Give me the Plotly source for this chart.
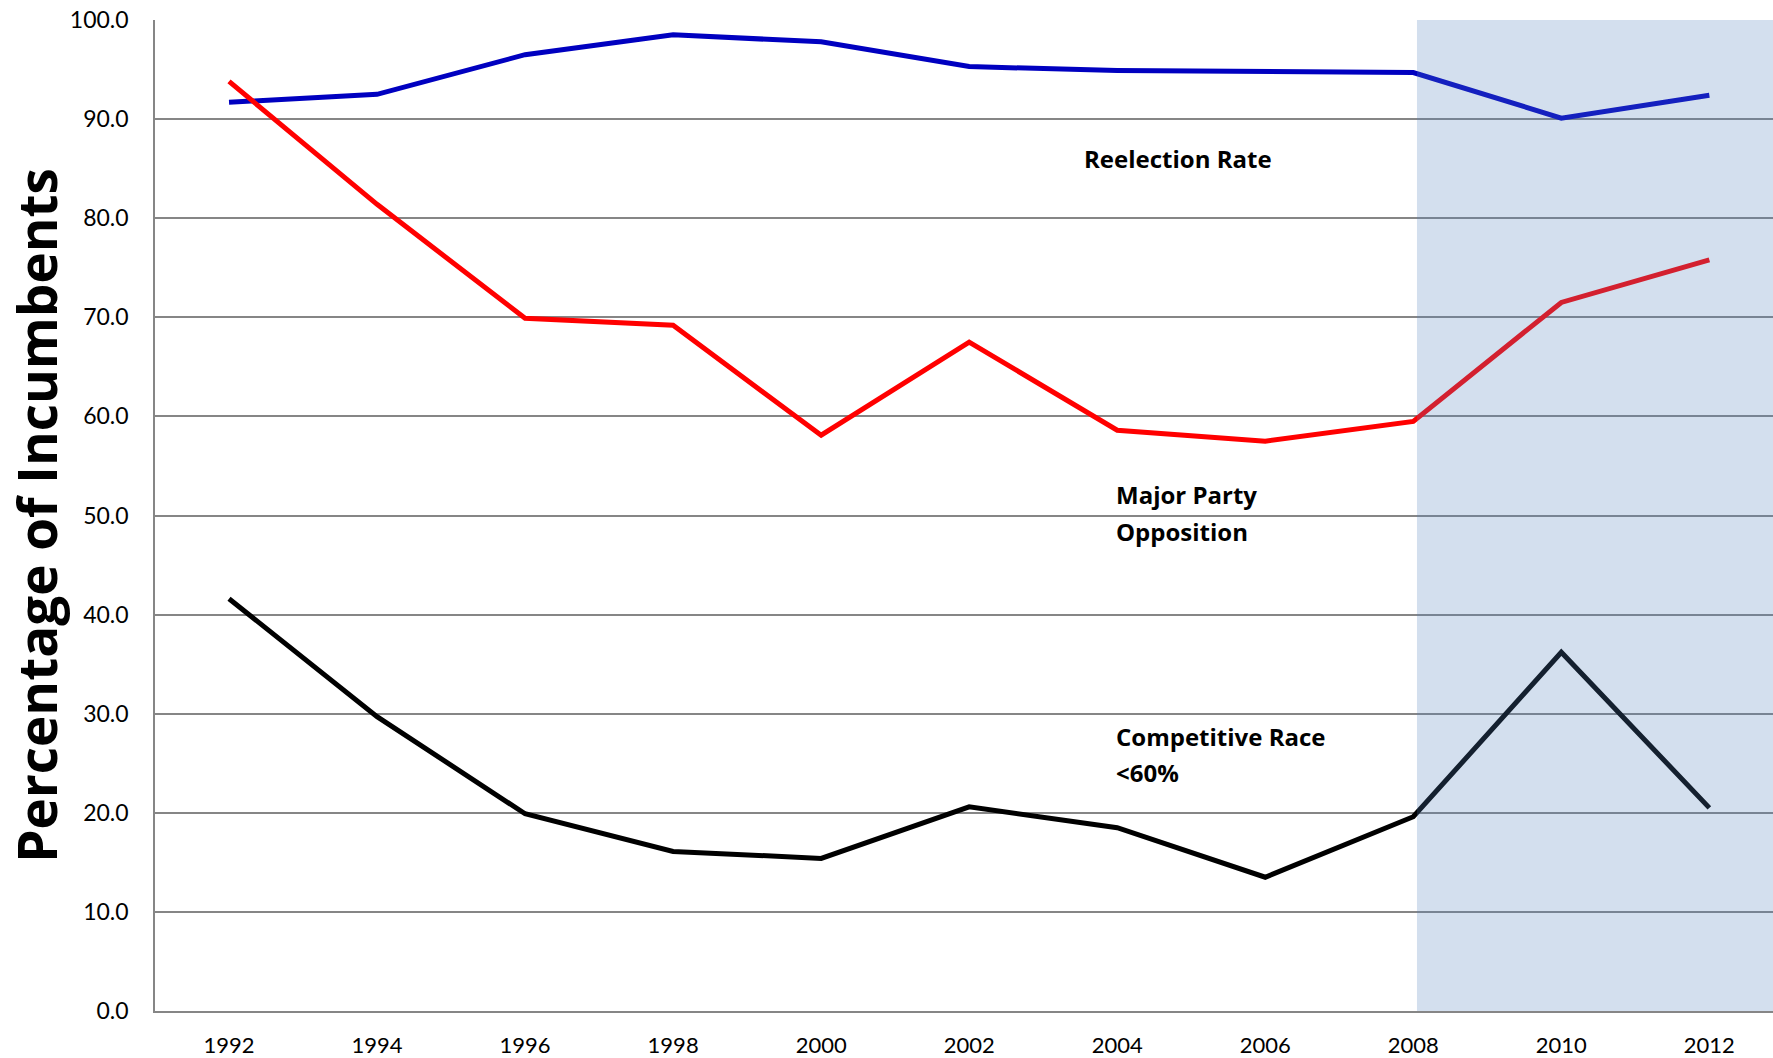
import plotly.graph_objects as go

years = [1992, 1994, 1996, 1998, 2000, 2002, 2004, 2006, 2008, 2010, 2012]
reelection_rate = [91.7, 92.5, 96.5, 98.5, 97.8, 95.3, 94.9, 94.8, 94.7, 90.1, 92.4]
major_party_opposition = [93.8, 81.4, 69.9, 69.2, 58.1, 67.5, 58.6, 57.5, 59.5, 71.5, 75.8]
competitive_race = [41.6, 29.7, 19.9, 16.1, 15.4, 20.6, 18.5, 13.5, 19.6, 36.2, 20.5]
y_ticks = [0, 10, 20, 30, 40, 50, 60, 70, 80, 90, 100]

FONT = "Lato"
TFONT = "Open Sans"
fig = go.Figure()

fig.add_trace(go.Scatter(x=years, y=reelection_rate, mode="lines",
                         line=dict(color="#0000C0", width=5), name="Reelection Rate"))
fig.add_trace(go.Scatter(x=years, y=major_party_opposition, mode="lines",
                         line=dict(color="#FF0000", width=5), name="Major Party Opposition"))
fig.add_trace(go.Scatter(x=years, y=competitive_race, mode="lines",
                         line=dict(color="#000000", width=5), name="Competitive Race <60%"))

x_max = 2012.86
fig.add_shape(type="rect", xref="x", yref="y", x0=2008.05, x1=x_max, y0=0, y1=100,
              fillcolor="rgba(79,129,189,0.25)", line=dict(width=0), layer="above")

ann_font = dict(family=TFONT, size=24, color="black")
labels = [
    (2003.52, 86.0, "Reelection Rate"),
    (2003.95, 52.1, "Major Party"),
    (2003.95, 48.4, "Opposition"),
    (2003.95, 27.7, "Competitive Race"),
    (2003.95, 24.1, "&lt;60%"),
]
for lx, ly, lt in labels:
    fig.add_annotation(x=lx, y=ly, text=f"<b>{lt}</b>", showarrow=False,
                       xanchor="left", yanchor="middle", align="left", font=ann_font)

fig.update_layout(
    width=1773, height=1058,
    margin=dict(l=155, r=0, t=20, b=47),
    paper_bgcolor="white", plot_bgcolor="white",
    showlegend=False,
    font=dict(family=FONT, color="black"),
)
fig.update_xaxes(
    range=[1991, x_max], tickmode="array", tickvals=years, ticktext=[str(y) for y in years],
    showgrid=False, zeroline=False, showline=True, linecolor="#868686", linewidth=1.5,
    ticks="", tickfont=dict(family=FONT, size=22, color="black"), ticklabelstandoff=14,
)
fig.update_yaxes(
    range=[0, 100], tickmode="array", tickvals=y_ticks, ticktext=[f"{v:.1f}" for v in y_ticks],
    showgrid=True, gridcolor="#868686", gridwidth=1.5, zeroline=False,
    showline=True, linecolor="#868686", linewidth=1.5, ticks="",
    tickfont=dict(family=FONT, size=23, color="black"), ticklabelstandoff=20,
    title=dict(text="<b>Percentage of Incumbents</b>", font=dict(family=TFONT, size=53, color="black"),
               standoff=13),
)

fig.write_html("out.html")
